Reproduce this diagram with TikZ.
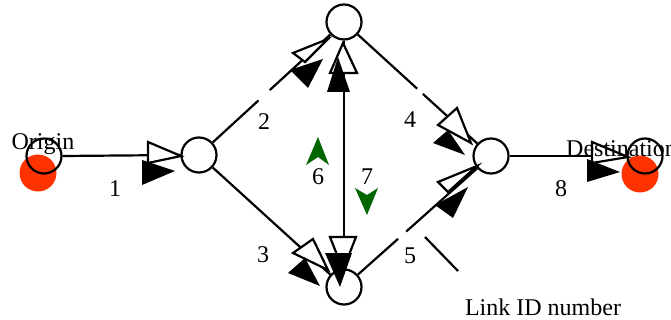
\documentclass[tikz,border=0pt]{standalone}
\usepackage{fontspec}
\setmainfont{Liberation Serif}
\definecolor{spot}{RGB}{255,51,0}
\definecolor{dgreen}{RGB}{0,102,0}
\begin{document}
\begin{tikzpicture}[x=1pt,y=-1pt,
  netnode/.style={circle,draw,line width=2.2pt,minimum size=35pt,inner sep=0pt},
  redspot/.style={circle,fill=spot,minimum size=37pt,inner sep=0pt},
  link/.style={line width=2.2pt},
  openhead/.style={draw,fill=white,line width=2.2pt,line join=miter},
  solidhead/.style={fill=black},
  greenhead/.style={fill=dgreen},
  lbl/.style={font=\fontsize{24}{28}\selectfont,anchor=base,inner sep=0pt}]
\useasboundingbox (0,0) rectangle (671,320);
% red spots
\node[redspot] (Ored) at (38,173) {};
\node[redspot] (Dred) at (640,174) {};
% nodes
\node[netnode] (O) at (44,156) {};
\node[netnode,fill=white] (A) at (199,155) {};
\node[netnode,fill=white] (T) at (344,22) {};
\node[netnode,fill=white] (B) at (344,287) {};
\node[netnode,fill=white] (C) at (491,156) {};
\node[netnode] (D) at (645,156) {};
% gap coordinates
\path (A) -- (T) coordinate[pos=0.39] (g2a) coordinate[pos=0.485] (g2b);
\path (T) -- (C) coordinate[pos=0.497] (g4a) coordinate[pos=0.545] (g4b);
\path (B) -- (C) coordinate[pos=0.337] (g5a) coordinate[pos=0.405] (g5b);
\coordinate (L1) at (425,237);
\coordinate (L2) at (458,271);
% links
\draw[link] (O.east) -- (A.west);
\draw[link] (A) -- (g2a);
\draw[link] (g2b) -- (T);
\draw[link] (T) -- (B);
\draw[link] (A) -- (B);
\draw[link] (T) -- (g4a);
\draw[link] (g4b) -- (C);
\draw[link] (B) -- (g5a);
\draw[link] (g5b) -- (C);
\draw[link] (C) -- (D.west);
\draw[link] (L1) -- (L2);
% arrow heads
\filldraw[openhead] (148,142) -- (148,163) -- (181,156) -- cycle;
\fill[solidhead] (142,160) -- (142,185) -- (175,171) -- cycle;
\filldraw[openhead] (293,53) -- (328,39) -- (305,62) -- cycle;
\fill[solidhead] (290,70) -- (323,59) -- (308,88) -- cycle;
\filldraw[openhead] (343,43) -- (357,73) -- (330,73) -- cycle;
\fill[solidhead] (338,57) -- (327,92) -- (350,92) -- cycle;
\filldraw[openhead] (330,237) -- (356,237) -- (343,270) -- cycle;
\fill[solidhead] (325,253) -- (352,253) -- (340,287) -- cycle;
\filldraw[openhead] (293,253) -- (313,239) -- (328,270) -- cycle;
\fill[solidhead] (288,273) -- (305,258) -- (320,286) -- cycle;
\filldraw[openhead] (438,125) -- (457,108) -- (471,143) -- cycle;
\fill[solidhead] (433,143) -- (448,130) -- (465,155) -- cycle;
\filldraw[openhead] (438,182) -- (477,166) -- (448,192) -- cycle;
\fill[solidhead] (435,205) -- (468,187) -- (453,218) -- cycle;
\filldraw[openhead] (592,142) -- (628,157) -- (592,163) -- cycle;
\fill[solidhead] (587,159) -- (587,182) -- (620,172) -- cycle;
% green direction marks
\fill[greenhead] (318,137) -- (329,165) -- (318,157) -- (306,165) -- cycle;
\fill[greenhead] (355,188) -- (367,195) -- (378,188) -- (367,215) -- cycle;
% labels
\node[lbl] (tO) at (43,150) {Origin};
\node[lbl,anchor=base west] (tD) at (566,157) {Destination};
\node[lbl] (n1) at (115,197) {1};
\node[lbl] (n2) at (264,130) {2};
\node[lbl] (n3) at (263,262) {3};
\node[lbl] (n4) at (410,128) {4};
\node[lbl] (n5) at (410,263) {5};
\node[lbl] (n6) at (318,185) {6};
\node[lbl] (n7) at (367,185) {7};
\node[lbl] (n8) at (561,197) {8};
\node[lbl] (tL) at (543,315) {Link ID number};
\end{tikzpicture}
\end{document}
